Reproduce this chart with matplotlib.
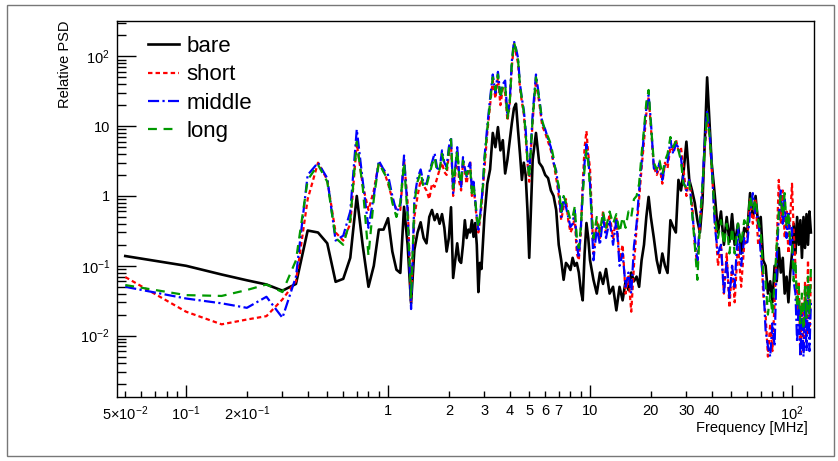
import matplotlib.pyplot as plt
from matplotlib.patches import Rectangle

plt.rcParams['font.family'] = ['Liberation Sans', 'DejaVu Sans']
plt.rcParams['mathtext.fontset'] = 'custom'
plt.rcParams['mathtext.rm'] = 'Liberation Sans'
plt.rcParams['mathtext.it'] = 'Liberation Sans:italic'
plt.rcParams['mathtext.bf'] = 'Liberation Sans:bold'

# frequency grid [MHz]
freq = [0.05, 0.10, 0.15, 0.20, 0.25, 0.30, 0.35, 0.40, 0.45, 0.50,
        0.55, 0.60, 0.65, 0.70, 0.75, 0.80, 0.85, 0.90, 0.95, 1.00,
        1.05, 1.10, 1.15, 1.20, 1.25, 1.30, 1.35, 1.40, 1.45, 1.50,
        1.55, 1.6, 1.65, 1.7, 1.75, 1.8, 1.85, 1.9, 1.95, 2.0,
        2.05, 2.1, 2.15, 2.2, 2.25, 2.3, 2.35, 2.4, 2.45, 2.5,
        2.55, 2.6, 2.65, 2.7, 2.75, 2.8, 2.85, 2.9, 2.95, 3.0,
        3.1, 3.2, 3.3, 3.4, 3.5, 3.6, 3.7, 3.8, 3.9, 4.0,
        4.1, 4.2, 4.3, 4.4, 4.5, 4.6, 4.7, 4.8, 4.9, 5.0,
        5.2, 5.4, 5.6, 5.8, 6.0, 6.2, 6.4, 6.6, 6.8, 7.0, 7.2, 7.4, 7.6,
        7.8, 8.0, 8.2, 8.4, 8.6, 8.8, 9.0, 9.2, 9.4, 9.6, 9.8, 10.0,
        10.4, 10.8, 11.2, 11.6, 12, 12.5, 13, 13.5, 14, 14.5, 15, 15.5,
        16, 16.5, 17, 17.5, 18, 18.5, 19, 19.5, 20, 20.7, 21.4, 22.1,
        22.8, 23.5, 24.2, 25, 25.8, 26.6, 27.4, 28.2, 29, 30, 31, 32, 33,
        34, 35, 36, 37, 38, 39, 40,
        41.5, 43, 44.5, 46, 47.5, 49, 50.5, 52, 54, 56, 58, 60, 62, 64,
        66, 68, 70, 72, 74, 76, 78, 80, 82, 84, 86, 88, 90, 92, 94, 96,
        98, 100, 102, 104, 106, 108, 110, 112, 114, 116, 118, 120, 122, 124]

bare = [0.138, 0.100, 0.075, 0.062, 0.054, 0.044, 0.055, 0.32, 0.30, 0.21,
        0.059, 0.065, 0.13, 1.0, 0.19, 0.05, 0.10, 0.33, 0.33, 0.48,
        0.16, 0.088, 0.079, 0.70, 0.20, 0.029, 0.17, 0.30, 0.42, 0.25,
        0.21, 0.5, 0.63, 0.45, 0.55, 0.4, 0.55, 0.35, 0.16, 0.25,
        0.69, 0.067, 0.12, 0.21, 0.12, 0.11, 0.2, 0.45, 0.25, 0.33,
        0.3, 0.45, 0.26, 0.41, 0.2, 0.042, 0.11, 0.09, 0.21, 0.5,
        1.5, 2.4, 8.0, 5.0, 9.7, 4.5, 6.3, 2.1, 3.3, 6.0,
        11.0, 18.0, 21.0, 8.8, 4.0, 1.7, 3.0, 2.0, 0.63, 0.13,
        3.3, 8.0, 3.0, 2.6, 2.0, 1.8, 1.2, 1.0, 0.63, 0.2, 0.12, 0.063, 0.11,
        0.10, 0.087, 0.13, 0.10, 0.11, 0.08, 0.045, 0.032, 0.15, 0.41, 0.25, 0.12,
        0.063, 0.04, 0.08, 0.055, 0.09, 0.04, 0.05, 0.023, 0.05, 0.032, 0.06, 0.045,
        0.08, 0.06, 0.07, 0.05, 0.12, 0.2, 0.5, 0.97, 0.5, 0.25, 0.12, 0.079,
        0.15, 0.1, 0.079, 0.45, 0.36, 0.3, 1.7, 1.2, 2.1, 6.0, 1.7, 1.2, 0.8,
        0.45, 0.3, 0.8, 6.0, 50.0, 12.0, 3.0,
        1.0, 0.3, 0.6, 0.2, 0.5, 0.22, 0.55, 0.2, 0.4, 0.15, 0.35, 0.3, 1.1, 0.5,
        1.0, 0.4, 0.5, 0.12, 0.1, 0.04, 0.06, 0.03, 0.1, 0.06, 0.18, 0.08, 0.13, 0.04, 0.07, 0.03,
        0.08, 0.15, 0.4, 0.15, 0.5, 0.2, 0.45, 0.13, 0.5, 0.18, 0.55, 0.2, 0.6, 0.3]

short = [0.069, 0.022, 0.0145, 0.017, 0.019, 0.033, 0.06, 0.9, 3.0, 1.7,
         0.3, 0.23, 0.4, 5.7, 1.4, 0.63, 1.2, 3.0, 2.4, 1.5,
         0.9, 0.65, 0.63, 3.3, 0.8, 0.03, 0.5, 1.0, 1.7, 1.4,
         1.2, 0.9, 1.5, 1.35, 1.8, 2.4, 3.0, 2.2, 2.0, 4.0,
         5.5, 1.0, 2.0, 4.2, 1.6, 1.2, 3.0, 2.2, 1.5, 2.2,
         3.2, 1.0, 1.4, 0.8, 0.45, 0.3, 0.45, 0.7, 1.3, 2.5,
         8, 20, 45, 25, 50, 20, 35, 30, 12, 20,
         70, 150, 110, 80, 35, 22, 15, 7, 3, 1.6,
         12, 45, 22, 10, 8, 6, 4.5, 3, 1.8, 1.0, 0.45, 0.7, 0.9,
         0.45, 0.3, 0.35, 0.5, 0.15, 0.12, 0.3, 1.5, 5.0, 8.5, 4.0, 2.5,
         0.15, 0.45, 0.25, 0.6, 0.3, 0.55, 0.25, 0.5, 0.12, 0.2, 0.04, 0.07,
         0.022, 0.1, 0.35, 0.9, 2.5, 6, 15, 26, 10, 2.6, 2.0, 2.6,
         1.5, 3.0, 2.5, 5, 4.5, 6.5, 4.5, 5.0, 2.5, 1.0, 1.8, 0.8, 0.2,
         0.1, 0.4, 1.2, 5, 12, 8, 2.5,
         0.5, 0.1, 0.2, 0.04, 0.15, 0.025, 0.1, 0.03, 0.2, 0.05, 0.2, 0.25, 0.9, 0.4,
         0.9, 0.2, 0.25, 0.04, 0.02, 0.005, 0.015, 0.006, 0.03, 0.2, 1.7, 0.4, 1.2, 0.25, 0.6, 0.15,
         0.5, 1.5, 0.3, 0.1, 0.02, 0.06, 0.005, 0.03, 0.006, 0.06, 0.01, 0.12, 0.01, 0.07]

middle = [0.05, 0.034, 0.029, 0.025, 0.036, 0.018, 0.07, 2.0, 3.0, 1.8,
          0.23, 0.27, 0.6, 9.0, 1.6, 0.35, 1.0, 3.2, 2.4, 2.0,
          1.0, 0.6, 0.7, 3.8, 0.6, 0.024, 0.9, 1.8, 2.4, 1.5,
          1.5, 2.2, 3.0, 4.1, 2.5, 2.4, 4.5, 3.0, 2.6, 5.0,
          7.0, 1.1, 2.5, 5.0, 2.0, 1.35, 3.6, 2.5, 1.9, 2.6,
          3.0, 1.2, 1.6, 0.9, 0.5, 0.33, 0.5, 0.8, 1.5, 3.5,
          10, 25, 55, 30, 60, 28, 40, 45, 14, 22,
          85, 165, 130, 95, 40, 25, 17, 9, 3.5, 2.0,
          15, 55, 26, 11, 9, 6.5, 5, 3, 2.3, 1.2, 0.5, 0.97, 0.7,
          0.5, 0.36, 0.4, 0.63, 0.2, 0.13, 0.33, 1.2, 3.0, 5.5, 3.6, 1.5,
          0.12, 0.35, 0.2, 0.5, 0.25, 0.45, 0.2, 0.45, 0.1, 0.15, 0.05, 0.08,
          0.04, 0.19, 0.4, 1.2, 3, 8, 18, 28, 12, 2.5, 2.2, 3,
          1.7, 2.8, 3.0, 6.3, 4, 5.5, 5, 3.6, 1.6, 1.2, 1.7, 0.6, 0.25,
          0.12, 0.45, 1.4, 6, 17, 9, 3,
          0.36, 0.15, 0.2, 0.04, 0.12, 0.035, 0.1, 0.05, 0.36, 0.1, 0.25, 0.2, 0.6, 1.1,
          0.5, 0.5, 0.15, 0.06, 0.012, 0.007, 0.005, 0.015, 0.007, 0.12, 0.5, 1.2, 0.4, 0.9, 0.25, 0.6,
          0.2, 0.35, 0.06, 0.04, 0.008, 0.03, 0.005, 0.02, 0.005, 0.03, 0.006, 0.05, 0.006, 0.03]

long = [0.053, 0.038, 0.037, 0.045, 0.054, 0.042, 0.12, 1.7, 2.8, 1.6,
        0.25, 0.2, 0.45, 6.0, 1.3, 0.14, 0.9, 3.0, 2.2, 1.7,
        0.8, 0.5, 0.8, 3.0, 0.5, 0.035, 0.8, 1.6, 2.2, 1.3,
        1.4, 2.0, 2.8, 3.6, 2.2, 2.4, 4.0, 2.8, 2.4, 4.5,
        6.5, 1.3, 2.4, 4.5, 2.1, 1.5, 3.2, 2.3, 2.0, 2.4,
        2.6, 1.1, 1.4, 0.9, 0.5, 0.35, 0.5, 0.9, 1.4, 3.2,
        9, 22, 50, 33, 55, 25, 38, 40, 13, 20,
        80, 160, 125, 90, 38, 24, 16, 8, 3.2, 1.8,
        13, 50, 24, 12, 8.5, 7, 5.5, 3.5, 2.0, 1.4, 0.6, 1.0, 0.8,
        0.6, 0.45, 0.5, 0.7, 0.25, 0.18, 0.35, 1.0, 2.5, 4.5, 3.0, 1.3,
        0.25, 0.5, 0.3, 0.6, 0.35, 0.6, 0.4, 0.55, 0.3, 0.5, 0.35, 0.6,
        0.5, 0.9, 1.0, 1.5, 4, 9, 22, 33, 11, 3, 2.4, 3.2,
        2.0, 3.2, 4.0, 7, 5, 6, 4.5, 3.2, 1.5, 1.3, 1.6, 0.6, 0.2,
        0.063, 0.4, 1.3, 5, 15, 8, 2.8,
        0.5, 0.25, 0.45, 0.2, 0.4, 0.15, 0.35, 0.15, 0.4, 0.2, 0.45, 0.35, 1.0, 0.6,
        0.9, 0.45, 0.3, 0.08, 0.06, 0.02, 0.04, 0.02, 0.06, 0.2, 0.6, 1.0, 0.5, 1.1, 0.35, 0.6,
        0.2, 0.2, 0.06, 0.12, 0.025, 0.05, 0.015, 0.04, 0.012, 0.05, 0.018, 0.07, 0.02, 0.09]

x_major = [0.1, 1, 10, 100]
x_major_labels = [r'$10^{-1}$', '1', '10', r'$10^{2}$']
x_minor_labels = {0.05: r'5×$10^{-2}$', 0.2: r'2×$10^{-1}$',
                  2: '2', 3: '3', 4: '4', 5: '5', 6: '6', 7: '7',
                  20: '20', 30: '30', 40: '40'}
y_major = [0.01, 0.1, 1, 10, 100]
y_major_labels = [r'$10^{-2}$', r'$10^{-1}$', '1', '10', r'$10^{2}$']

fig = plt.figure(figsize=(8.38, 4.61), dpi=100)
ax = fig.add_axes([117/838, 1-397/461, (814-117)/838, (397-21)/461])

ax.plot(freq, bare, color='black', lw=1.9, label='bare')
ax.plot(freq, short, color='#ff0000', lw=1.6, ls=(0, (2, 1.4)), label='short')
ax.plot(freq, middle, color='#0000ff', lw=1.6, ls=(0, (5, 1.5, 1, 1.5)), label='middle')
ax.plot(freq, long, color='#009900', lw=1.6, ls=(0, (4, 3)), label='long')

ax.set_xscale('log')
ax.set_yscale('log')
ax.set_xlim(0.0455, 128.5)
ax.set_ylim(0.00132, 321)

x_minor = []
for dec in [0.01, 0.1, 1, 10, 100]:
    for k in range(2, 10):
        v = round(k*dec, 6)
        if 0.0455 < v < 128.5:
            x_minor.append(v)
ax.set_xticks(x_major, x_major_labels)
ax.set_xticks(x_minor, [x_minor_labels.get(v, '') for v in x_minor], minor=True)

y_minor = []
for dec in [0.001, 0.01, 0.1, 1, 10, 100]:
    for k in range(2, 10):
        v = k*dec
        if 0.00132 < v < 321:
            y_minor.append(v)
ax.set_yticks(y_major, y_major_labels)
ax.set_yticks(y_minor, minor=True)

ax.tick_params(axis='both', which='both', direction='in', top=False, right=False,
               labelsize=10.5, width=1)
ax.tick_params(axis='x', which='major', length=8.5, pad=5)
ax.tick_params(axis='x', which='minor', length=4.5, pad=5)
ax.tick_params(axis='y', which='major', length=13.5, pad=5)
ax.tick_params(axis='y', which='minor', length=6.5)
for s in ax.spines.values():
    s.set_linewidth(1)

fig.text(65/838, 1-20/461, 'Relative PSD', rotation=90, ha='center', va='top', fontsize=10.5)
fig.text(808/838, 1-428/461, 'Frequency [MHz]', ha='right', va='center', fontsize=10.5)

ax.legend(loc='upper left', bbox_to_anchor=(0.044, 0.96), frameon=False, fontsize=16,
          handlelength=1.4, handletextpad=0.35, labelspacing=0.33,
          borderaxespad=0, borderpad=0)

fig.patches.append(Rectangle((7/838, 5/461), (834-7)/838, (456-5)/461,
                             transform=fig.transFigure, fill=False,
                             edgecolor='#777777', lw=1))

fig.savefig('out.png', dpi=100)
